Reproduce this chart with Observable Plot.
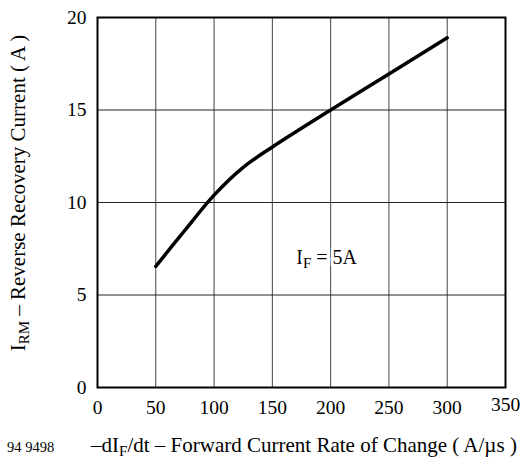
<!DOCTYPE html>
<html><head><meta charset="utf-8">
<script src="https://cdn.jsdelivr.net/npm/d3@7"></script>
<script src="https://cdn.jsdelivr.net/npm/@observablehq/plot@0.6"></script>
<style>
body{margin:0;background:#fff}
svg, svg text{font-family:"Liberation Serif","Times New Roman",serif !important}
</style>
</head><body><div id="chart"></div><script>
const rate = [50,75,100,125,150,200,250,300];
const irm  = [6.55,8.5,10.4,11.9,13.0,15.0,16.95,18.9];
const xTicks = [0,50,100,150,200,250,300];
const xTickLast = [350];
const yTicks = [0,5,10,15,20];
const annotation = {x: 197, y: 7.0, main: "I", sub: "F", rest: " = 5A"};

const data = rate.map((r,i)=>({r, v: irm[i]}));

const chart = Plot.plot({
  width: 523, height: 461,
  marginLeft: 97, marginRight: 18, marginTop: 17, marginBottom: 74,
  style: {fontFamily: '"Liberation Serif","Times New Roman",serif', background: "#fff", color: "#000"},
  x: {domain: [0,350]},
  y: {domain: [0,20]},
  marks: [
    Plot.gridX([0,50,100,150,200,250,300,350], {stroke: "#444", strokeOpacity: 1, strokeWidth: 1}),
    Plot.gridY(yTicks, {stroke: "#222", strokeOpacity: 1, strokeWidth: 1}),
    Plot.line(data, {x: "r", y: "v", stroke: "#000", strokeWidth: 3.5, curve: "catmull-rom"}),
    Plot.frame({stroke: "#000", strokeWidth: 2}),
    Plot.axisX(xTicks, {tickSize: 0, tickPadding: 13, fontSize: 19.5, label: null}),
    Plot.axisX(xTickLast, {tickSize: 0, tickPadding: 10, fontSize: 19.5, label: null}),
    Plot.axisY(yTicks, {tickSize: 0, tickPadding: 11, fontSize: 19.5, label: null})
  ]
});
document.getElementById("chart").appendChild(chart);

const svg = d3.select(chart);
const sx = chart.scale("x"), sy = chart.scale("y");

// annotation with subscript, white halo breaking the grid line
const ann = svg.append("text")
  .attr("x", sx.apply(annotation.x)).attr("y", sy.apply(annotation.y) + 6)
  .attr("text-anchor", "middle")
  .attr("font-size", 20).attr("fill", "#000")
  .attr("stroke", "#fff").attr("stroke-width", 6).attr("paint-order", "stroke");
ann.append("tspan").text(annotation.main);
ann.append("tspan").attr("font-size", 15).attr("dy", 4).text(annotation.sub);
ann.append("tspan").attr("dy", -4).text(annotation.rest);

// x-axis label
const xl = svg.append("text").attr("x", 304).attr("y", 452)
  .attr("text-anchor", "middle").attr("font-size", 21).attr("fill", "#000");
xl.append("tspan").text("–dI");
xl.append("tspan").attr("font-size", 15).attr("dy", 4).text("F");
xl.append("tspan").attr("dy", -4).text("/dt – Forward Current Rate of Change ( A/µs )");

// figure number
svg.append("text").attr("x", 7).attr("y", 452).attr("text-anchor", "start")
  .attr("font-size", 14.5).attr("fill", "#000").text("94 9498");

// y-axis label
const yl = svg.append("text").attr("transform", "translate(25,193) rotate(-90)")
  .attr("text-anchor", "middle").attr("font-size", 21).attr("fill", "#000");
yl.append("tspan").text("I");
yl.append("tspan").attr("font-size", 15).attr("dy", 4).text("RM");
yl.append("tspan").attr("dy", -4).text(" – Reverse Recovery Current ( A )");
</script></body></html>
